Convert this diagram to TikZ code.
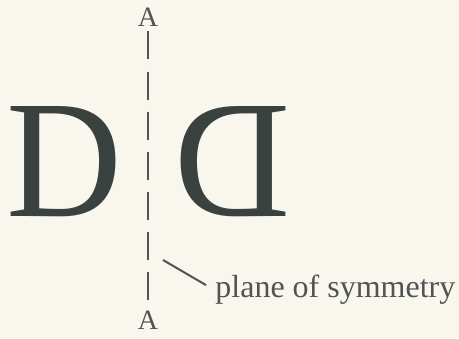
\documentclass[tikz,border=0pt]{standalone}
\usepackage{fontspec}
\setmainfont{Liberation Serif}
\usetikzlibrary{positioning}

\definecolor{paper}{RGB}{248,246,237}
\definecolor{ink}{RGB}{58,66,64}
\definecolor{pencil}{RGB}{80,84,84}

\begin{document}
\begin{tikzpicture}[
		x=0.5pt,y=-0.5pt,
		letter/.style={
			font=\fontsize{84}{84}\selectfont,
			text=ink,
			inner sep=0pt
		},
		axislabel/.style={
			font=\fontsize{14}{14}\selectfont,
			text=pencil,
			inner sep=1pt
		},
		caption/.style={
			font=\fontsize{16}{16}\selectfont,
			text=pencil,
			inner sep=1pt
		},
		axis/.style={
			draw=pencil,
			line width=1pt,
			dash pattern=on 14pt off 6.08pt,
			shorten <=1.35pt,
			shorten >=4.35pt
		},
		leader/.style={
			draw=pencil,
			line width=1pt,
			shorten >=4pt
		}
	]

	% page
	\fill[paper] (0,0) rectangle (459,338);
	\useasboundingbox (0,0) rectangle (459,338);

	% axis A--A
	\node[axislabel] (topA) at (148,17) {A};
	\node[axislabel] (botA) at (148,320) {A};
	\draw[axis] (topA) -- (botA);

	% the letter and its mirror image
	\node[letter] (letter) at (64.5,161.5) {\scalebox{0.955}[1]{D}};
	\node[letter] (mirror) at (232.5,161.5) {\scalebox{-0.955}[1]{D}};

	% label
	\coordinate (tip) at (163,260);
	\node[caption,anchor=base west] (plane) at (213,297) {plane of symmetry};
	\draw[leader] (tip) -- (plane.west);

\end{tikzpicture}
\end{document}
